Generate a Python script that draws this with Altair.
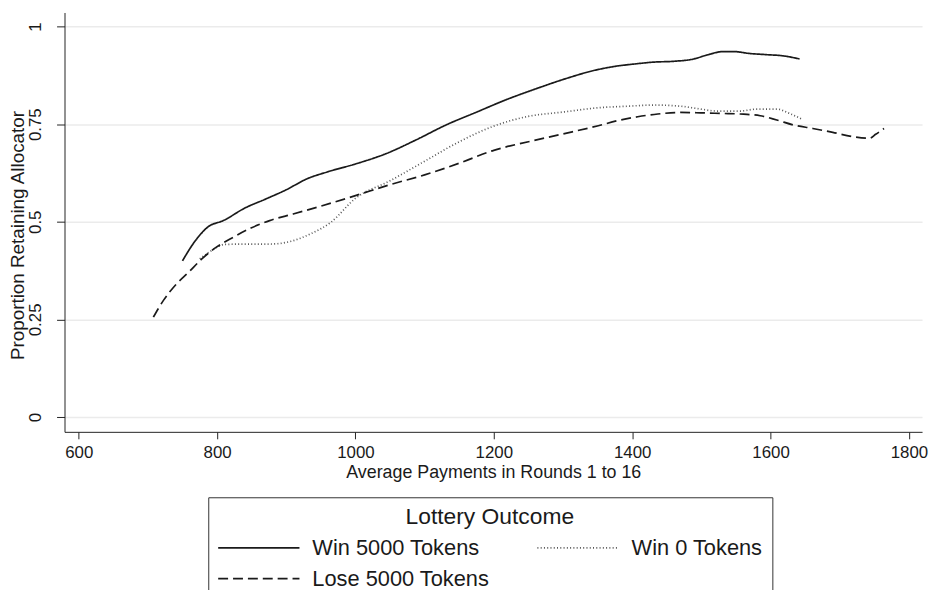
import altair as alt
import pandas as pd

series_names = ["Win 5000 Tokens", "Win 0 Tokens", "Lose 5000 Tokens"]

win5000_x = [750, 768, 787, 809, 840, 870, 900, 930, 960, 1000, 1045, 1088, 1131, 1174,
             1217, 1260, 1303, 1346, 1375, 1403, 1432, 1460, 1489, 1508, 1532, 1546,
             1570, 1594, 1618, 1642]
win5000_y = [0.40, 0.45, 0.487, 0.503, 0.535, 0.558, 0.582, 0.61, 0.628, 0.648, 0.675,
             0.71, 0.748, 0.78, 0.812, 0.84, 0.866, 0.888, 0.898, 0.904, 0.909, 0.911,
             0.917, 0.927, 0.936, 0.936, 0.931, 0.928, 0.925, 0.917]

win0_x = [775, 792, 811, 845, 878, 907, 935, 964, 1000, 1050, 1100, 1150, 1200, 1250,
          1300, 1351, 1394, 1432, 1470, 1494, 1523, 1556, 1580, 1609, 1628, 1645]
win0_y = [0.405, 0.426, 0.442, 0.443, 0.443, 0.45, 0.469, 0.498, 0.56, 0.605, 0.655,
          0.705, 0.745, 0.77, 0.781, 0.792, 0.796, 0.799, 0.796, 0.79, 0.7835, 0.7835,
          0.7886, 0.7886, 0.777, 0.763]

lose5000_x = [708, 723, 740, 759, 778, 799, 823, 849, 876, 910, 950, 1000, 1050, 1100,
              1150, 1200, 1250, 1300, 1351, 1379, 1408, 1437, 1470, 1499, 1528, 1556,
              1585, 1609, 1633, 1661, 1690, 1719, 1743, 1752, 1764]
lose5000_y = [0.256, 0.30, 0.338, 0.371, 0.405, 0.435, 0.46, 0.484, 0.503, 0.52, 0.54,
              0.567, 0.595, 0.62, 0.65, 0.683, 0.705, 0.725, 0.746, 0.759, 0.769, 0.776,
              0.780, 0.779, 0.7775, 0.776, 0.7716, 0.7606, 0.748, 0.739, 0.729, 0.718,
              0.714, 0.724, 0.739]

x_ticks = [600, 800, 1000, 1200, 1400, 1600, 1800]
y_ticks = [0, 0.25, 0.5, 0.75, 1]

rows = []
for name, xs, ys in [(series_names[0], win5000_x, win5000_y),
                     (series_names[1], win0_x, win0_y),
                     (series_names[2], lose5000_x, lose5000_y)]:
    for xv, yv in zip(xs, ys):
        rows.append({"payment": xv, "prop": yv, "series": name})
df = pd.DataFrame(rows)

FONT = "Liberation Sans"
INK = "#1a1a1a"

leg = alt.Legend(
    title="Lottery Outcome", orient="none", legendX=145, legendY=489,
    direction="horizontal", columns=2,
    symbolType="stroke", symbolSize=6724, clipHeight=22,
    symbolStrokeWidth=1.7,
    labelOffset=12, padding=9, columnPadding=47, rowPadding=9,
    titleAnchor="middle", titleFontSize=23, titleFontWeight="normal",
    titlePadding=8, titleFont=FONT, titleColor=INK,
    labelFontSize=22, labelFont=FONT, labelColor=INK, labelLimit=400,
    strokeColor="#333333",
)

dash_scale = alt.Scale(domain=series_names, range=[[1, 0], [1, 2.3], [10, 5]])
color_scale = alt.Scale(domain=series_names, range=[INK, "#555555", INK])

chart = alt.Chart(df).mark_line(interpolate="monotone", strokeWidth=1.7).encode(
    x=alt.X("payment:Q",
            scale=alt.Scale(domain=[579.5, 1819], nice=False, zero=False),
            axis=alt.Axis(values=x_ticks, format="d",
                          title="Average Payments in Rounds 1 to 16",
                          grid=False, tickSize=7, labelPadding=6,
                          labelFontSize=17, titleFontSize=18, titleY=32,
                          titleBaseline="top", titleFontWeight="normal")),
    y=alt.Y("prop:Q",
            scale=alt.Scale(domain=[-0.038, 1.036], nice=False, zero=False),
            axis=alt.Axis(values=y_ticks, labelExpr="toString(datum.value)",
                          title="Proportion Retaining Allocator",
                          grid=True, gridColor="#ebebeb", gridWidth=1.5,
                          tickSize=8, labelAngle=270, labelAlign="center",
                          labelBaseline="middle", labelPadding=21,
                          labelFontSize=17, titleFontSize=19, titleAngle=270,
                          titleX=-37, titleY=224.5, titleAlign="center",
                          titleBaseline="bottom", titleFontWeight="normal")),
    strokeDash=alt.StrokeDash("series:N", scale=dash_scale, legend=leg),
    color=alt.Color("series:N", scale=color_scale, legend=leg),
).properties(
    width=865, height=423,
    autosize=alt.AutoSizeParams(type="none"),
    padding={"left": 57, "top": 2, "right": 7, "bottom": 157},
).configure(
    font=FONT,
).configure_view(
    stroke=None,
).configure_axis(
    domainColor="#222222", tickColor="#222222", labelColor=INK, titleColor=INK,
    labelFont=FONT, titleFont=FONT, domainWidth=1, tickWidth=1,
)

chart.save("out.html", embed_options={"renderer": "svg", "actions": False})
